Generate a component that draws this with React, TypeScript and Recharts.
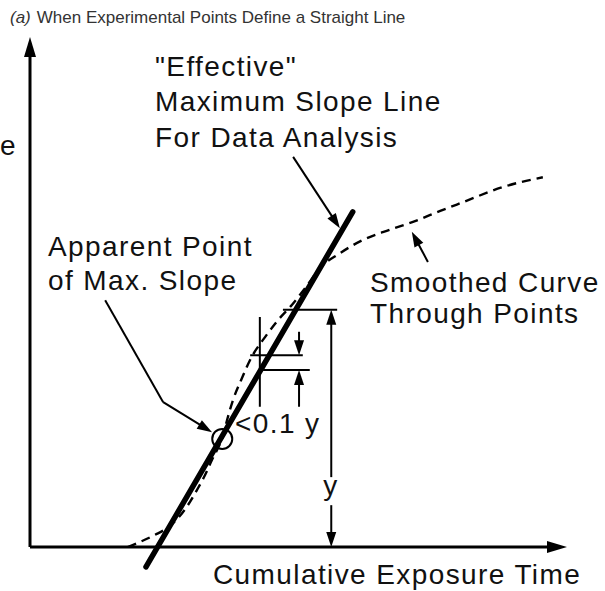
import { LineChart, Line, XAxis, YAxis, ReferenceLine, ReferenceDot } from "recharts";

// values (time along x, response along y; axis corner = 0,0)
const curveTime = [
  18.2, 20.5, 23.3, 25.5, 27.6, 29.4, 31.1, 32.6, 33.9, 35.0, 35.9, 36.7, 37.8,
  39.3, 41.3, 43.8, 46.2, 48.8, 51.4, 54.0, 57.7, 62.0, 67.0, 71.7, 76.4, 80.6,
  88.1, 95.5,
];
const curveResponse = [
  0, 1.0, 2.4, 3.7, 5.7, 8.2, 11.2, 14.1, 17.1, 19.4, 21.6, 24.9, 28.8, 32.7,
  37.3, 41.2, 44.5, 47.5, 51.0, 54.7, 57.6, 60.2, 62.2, 63.9, 65.9, 67.6, 70.6,
  72.5,
];

// "effective" max slope line, two ends
const slopeTime = [21.6, 60.1];
const slopeResponse = [-3.9, 65.7];

// apparent point of max slope
const apparentTime = 35.8;
const apparentResponse = 21.2;

// axes: [x1, y1, x2, y2]
const axisSegments = [
  [0, 0, 100, 0],
  [0, 0, 0, 100],
];

// dimension / leader lines without heads
const plainSegments = [
  [47.1, 46.5, 57.2, 46.5],
  [42.8, 45.1, 42.8, 27.5],
  [41.0, 37.6, 50.8, 37.6],
  [43.4, 34.7, 52.1, 34.7],
  [14.0, 48.4, 24.8, 28.4],
];

// lines ending in an arrow head
const arrowSegments = [
  [56.1, 13.7, 56.1, 46.5],
  [56.1, 8.2, 56.1, 0],
  [50.1, 42.2, 50.1, 37.6],
  [50.1, 27.5, 50.1, 34.7],
  [49.0, 76.5, 57.7, 62.5],
  [24.8, 28.4, 33.9, 22.5],
  [74.1, 55.9, 71.1, 61.8],
];

const curveData = curveTime.map((t, i) => ({ x: t, y: curveResponse[i] }));
const slopeData = slopeTime.map((t, i) => ({ x: t, y: slopeResponse[i] }));

const FONT = "'Liberation Sans', Arial, Helvetica, sans-serif";

const arrowShape = (len: number, half: number, width: number) => (props: any) => {
  const x1 = Number(props.x1);
  const y1 = Number(props.y1);
  const x2 = Number(props.x2);
  const y2 = Number(props.y2);
  const dx = x2 - x1;
  const dy = y2 - y1;
  const d = Math.hypot(dx, dy) || 1;
  const ux = dx / d;
  const uy = dy / d;
  const bx = x2 - ux * len;
  const by = y2 - uy * len;
  const pts = `${x2},${y2} ${bx - uy * half},${by + ux * half} ${bx + uy * half},${by - ux * half}`;
  return (
    <g>
      <line x1={x1} y1={y1} x2={bx + ux * 2} y2={by + uy * 2} stroke="#000" strokeWidth={width} />
      <polygon points={pts} fill="#000" />
    </g>
  );
};

const axisArrow = arrowShape(20, 6, 3);
const leaderArrow = arrowShape(15, 5, 2);

const labelStyle = {
  fontFamily: FONT,
  fontSize: 28,
  letterSpacing: 1.4,
  fill: "#111",
};

export default function App() {
  return (
    <div style={{ position: "absolute", left: 0, top: 0, width: 605, height: 591, background: "#fff" }}>
      <LineChart
        width={605}
        height={591}
        margin={{ top: 37, right: 38, bottom: 3.2, left: 30 }}
      >
        <XAxis type="number" dataKey="x" domain={[0, 100]} hide />
        <YAxis type="number" dataKey="y" domain={[-8, 100]} hide />

        {axisSegments.map((s, i) => (
          <ReferenceLine
            key={`axis-${i}`}
            segment={[{ x: s[0], y: s[1] }, { x: s[2], y: s[3] }]}
            ifOverflow="visible"
            shape={axisArrow}
          />
        ))}

        <Line
          data={curveData}
          dataKey="y"
          type="monotone"
          stroke="#000"
          strokeWidth={2.4}
          strokeDasharray="9 6"
          dot={false}
          isAnimationActive={false}
        />
        <Line
          data={slopeData}
          dataKey="y"
          type="linear"
          stroke="#000"
          strokeWidth={5.5}
          strokeLinecap="round"
          dot={false}
          isAnimationActive={false}
        />

        {plainSegments.map((s, i) => (
          <ReferenceLine
            key={`plain-${i}`}
            segment={[{ x: s[0], y: s[1] }, { x: s[2], y: s[3] }]}
            ifOverflow="visible"
            stroke="#000"
            strokeWidth={2}
          />
        ))}
        {arrowSegments.map((s, i) => (
          <ReferenceLine
            key={`arrow-${i}`}
            segment={[{ x: s[0], y: s[1] }, { x: s[2], y: s[3] }]}
            ifOverflow="visible"
            shape={leaderArrow}
          />
        ))}

        <ReferenceDot
          x={apparentTime}
          y={apparentResponse}
          r={10}
          fill="none"
          stroke="#000"
          strokeWidth={2}
          ifOverflow="visible"
        />

        <text x={10} y={23} style={{ fontFamily: FONT, fontSize: 17, fill: "#333" }}>
          <tspan fontStyle="italic">(a)</tspan>
          <tspan dx={6}>When Experimental Points Define a Straight Line</tspan>
        </text>

        <text x={0} y={155} style={labelStyle}>e</text>

        <text x={155} y={76} style={labelStyle}>"Effective"</text>
        <text x={155} y={111} style={labelStyle}>Maximum Slope Line</text>
        <text x={155} y={147} style={labelStyle}>For Data Analysis</text>

        <text x={48} y={256} style={labelStyle}>Apparent Point</text>
        <text x={48} y={290} style={labelStyle}>of Max. Slope</text>

        <text x={370} y={292} style={labelStyle}>Smoothed Curve</text>
        <text x={370} y={323} style={labelStyle}>Through Points</text>

        <text x={235} y={433} style={labelStyle}>&lt;0.1 y</text>
        <text x={331} y={495} textAnchor="middle" style={labelStyle}>y</text>

        <text x={213} y={584} style={labelStyle}>Cumulative Exposure Time</text>
      </LineChart>
    </div>
  );
}
